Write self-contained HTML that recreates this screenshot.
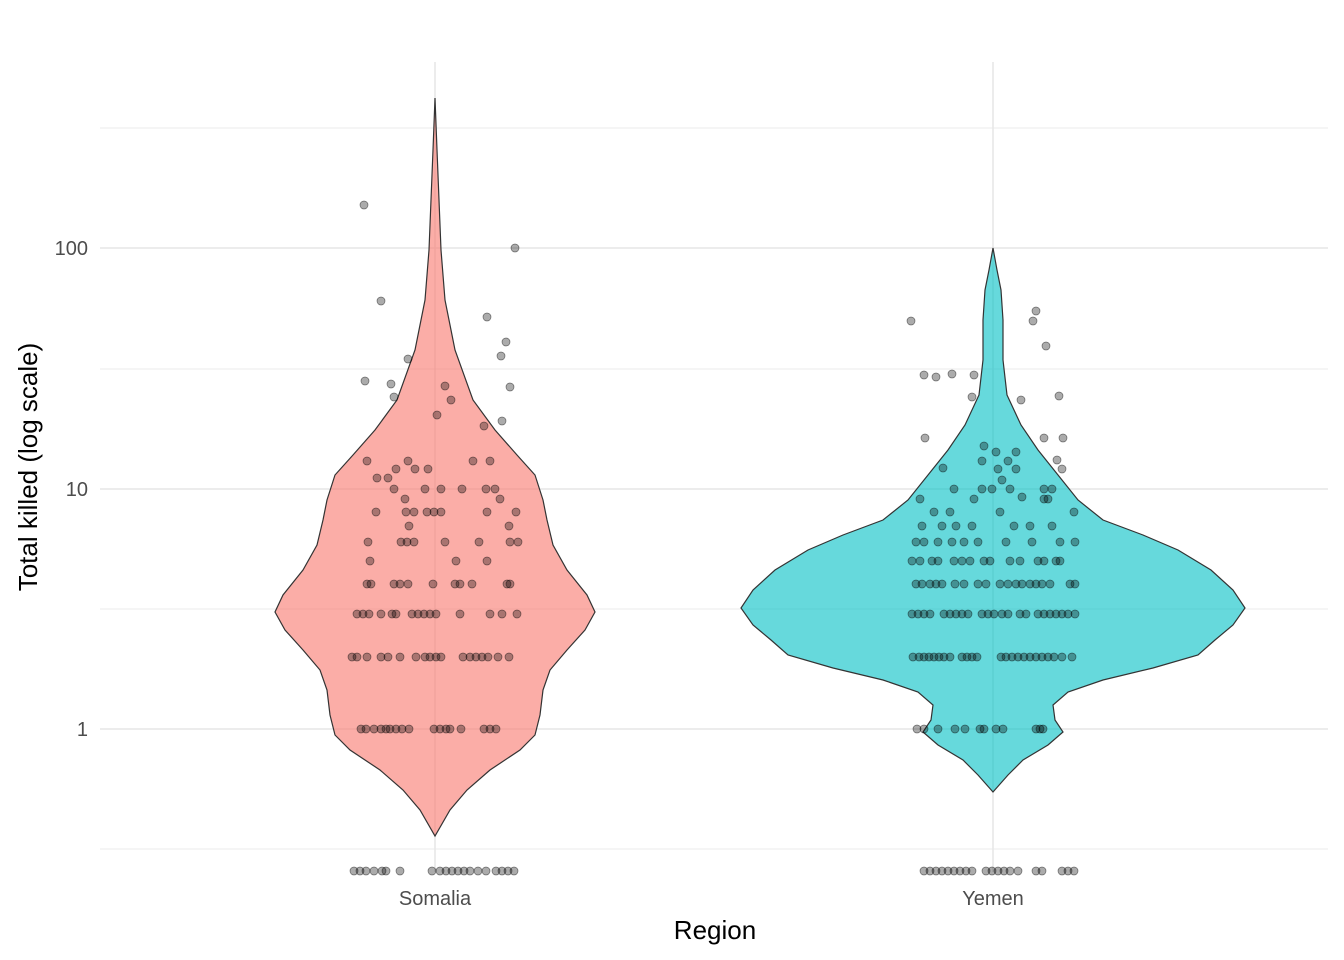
<!DOCTYPE html>
<html><head><meta charset="utf-8"><style>
html,body{margin:0;padding:0;background:#fff;}
svg{display:block;font-family:"Liberation Sans",Arial,sans-serif;}
</style></head><body>
<svg width="1344" height="960" viewBox="0 0 1344 960" xmlns="http://www.w3.org/2000/svg">
<rect width="1344" height="960" fill="#fff"/>
<g stroke="#ebebeb" stroke-width="1">
<line x1="100" x2="1328" y1="128" y2="128"/>
<line x1="100" x2="1328" y1="369" y2="369"/>
<line x1="100" x2="1328" y1="609" y2="609"/>
<line x1="100" x2="1328" y1="849" y2="849"/>
</g>
<g stroke="#e6e6e6" stroke-width="1.5">
<line x1="100" x2="1328" y1="248" y2="248"/>
<line x1="100" x2="1328" y1="489" y2="489"/>
<line x1="100" x2="1328" y1="729" y2="729"/>
<line x1="435" x2="435" y1="62" y2="872"/>
<line x1="993" x2="993" y1="62" y2="872"/>
</g>
<path fill="#F8766D" fill-opacity="0.6" stroke="#333" stroke-width="1.2" d="M435,98 L437,150 L441,250 L445,300 L455,350 L473,400 L495,430 L517,455 L535,475 L543,500 L547,520 L553,545 L567,570 L587,595 L595,612 L585,630 L567,650 L550,670 L543,690 L540,715 L535,735 L520,750 L490,770 L467,790 L450,810 L435,836 L420,810 L403,790 L380,770 L350,750 L335,735 L330,715 L327,690 L320,670 L303,650 L285,630 L275,612 L283,595 L303,570 L317,545 L323,520 L327,500 L335,475 L353,455 L375,430 L397,400 L415,350 L425,300 L429,250 L433,150 Z"/>
<path fill="#00BFC4" fill-opacity="0.6" stroke="#333" stroke-width="1.2" d="M993,248 L997,270 L1001,290 L1003,320 L1003,360 L1007,395 L1021,425 L1038,450 L1058,475 L1078,500 L1103,520 L1143,535 L1178,550 L1211,570 L1233,590 L1245,608 L1233,625 L1215,640 L1198,655 L1153,668 L1103,680 L1068,692 L1053,705 L1055,720 L1063,732 L1048,745 L1023,760 L1008,775 L993,792 L978,775 L963,760 L938,745 L923,732 L931,720 L933,705 L918,692 L883,680 L833,668 L788,655 L771,640 L753,625 L741,608 L753,590 L775,570 L808,550 L843,535 L883,520 L908,500 L928,475 L948,450 L965,425 L979,395 L983,360 L983,320 L985,290 L989,270 Z"/>
<g fill="#000" fill-opacity="0.33" stroke="#000" stroke-opacity="0.5" stroke-width="0.7">
<!-- Somalia zeros -->
<circle cx="354" cy="871" r="4"/><circle cx="360" cy="871" r="4"/><circle cx="366" cy="871" r="4"/><circle cx="374" cy="871" r="4"/><circle cx="382" cy="871" r="4"/><circle cx="386" cy="871" r="4"/><circle cx="400" cy="871" r="4"/><circle cx="432" cy="871" r="4"/><circle cx="440" cy="871" r="4"/><circle cx="446" cy="871" r="4"/><circle cx="452" cy="871" r="4"/><circle cx="458" cy="871" r="4"/><circle cx="464" cy="871" r="4"/><circle cx="470" cy="871" r="4"/><circle cx="478" cy="871" r="4"/><circle cx="486" cy="871" r="4"/><circle cx="496" cy="871" r="4"/><circle cx="502" cy="871" r="4"/><circle cx="508" cy="871" r="4"/><circle cx="514" cy="871" r="4"/>
<!-- Somalia 1 -->
<circle cx="361" cy="729" r="4"/><circle cx="366" cy="729" r="4"/><circle cx="374" cy="729" r="4"/><circle cx="381" cy="729" r="4"/><circle cx="386" cy="729" r="4"/><circle cx="390" cy="729" r="4"/><circle cx="396" cy="729" r="4"/><circle cx="402" cy="729" r="4"/><circle cx="409" cy="729" r="4"/><circle cx="434" cy="729" r="4"/><circle cx="440" cy="729" r="4"/><circle cx="446" cy="729" r="4"/><circle cx="450" cy="729" r="4"/><circle cx="461" cy="729" r="4"/><circle cx="484" cy="729" r="4"/><circle cx="490" cy="729" r="4"/><circle cx="496" cy="729" r="4"/>
<!-- 2 -->
<circle cx="352" cy="657" r="4"/><circle cx="357" cy="657" r="4"/><circle cx="367" cy="657" r="4"/><circle cx="381" cy="657" r="4"/><circle cx="388" cy="657" r="4"/><circle cx="400" cy="657" r="4"/><circle cx="416" cy="657" r="4"/><circle cx="425" cy="657" r="4"/><circle cx="430" cy="657" r="4"/><circle cx="436" cy="657" r="4"/><circle cx="441" cy="657" r="4"/><circle cx="463" cy="657" r="4"/><circle cx="470" cy="657" r="4"/><circle cx="476" cy="657" r="4"/><circle cx="482" cy="657" r="4"/><circle cx="488" cy="657" r="4"/><circle cx="498" cy="657" r="4"/><circle cx="509" cy="657" r="4"/>
<!-- 3 -->
<circle cx="357" cy="614" r="4"/><circle cx="363" cy="614" r="4"/><circle cx="369" cy="614" r="4"/><circle cx="381" cy="614" r="4"/><circle cx="392" cy="614" r="4"/><circle cx="396" cy="614" r="4"/><circle cx="412" cy="614" r="4"/><circle cx="418" cy="614" r="4"/><circle cx="424" cy="614" r="4"/><circle cx="430" cy="614" r="4"/><circle cx="436" cy="614" r="4"/><circle cx="460" cy="614" r="4"/><circle cx="490" cy="614" r="4"/><circle cx="502" cy="614" r="4"/><circle cx="517" cy="614" r="4"/>
<!-- 4 -->
<circle cx="367" cy="584" r="4"/><circle cx="371" cy="584" r="4"/><circle cx="394" cy="584" r="4"/><circle cx="400" cy="584" r="4"/><circle cx="408" cy="584" r="4"/><circle cx="433" cy="584" r="4"/><circle cx="455" cy="584" r="4"/><circle cx="460" cy="584" r="4"/><circle cx="472" cy="584" r="4"/><circle cx="507" cy="584" r="4"/><circle cx="510" cy="584" r="4"/>
<!-- 5-9 -->
<circle cx="370" cy="561" r="4"/><circle cx="456" cy="561" r="4"/><circle cx="487" cy="561" r="4"/>
<circle cx="368" cy="542" r="4"/><circle cx="401" cy="542" r="4"/><circle cx="407" cy="542" r="4"/><circle cx="414" cy="542" r="4"/><circle cx="445" cy="542" r="4"/><circle cx="479" cy="542" r="4"/><circle cx="510" cy="542" r="4"/><circle cx="518" cy="542" r="4"/>
<circle cx="409" cy="526" r="4"/><circle cx="509" cy="526" r="4"/>
<circle cx="376" cy="512" r="4"/><circle cx="406" cy="512" r="4"/><circle cx="414" cy="512" r="4"/><circle cx="427" cy="512" r="4"/><circle cx="434" cy="512" r="4"/><circle cx="441" cy="512" r="4"/><circle cx="487" cy="512" r="4"/><circle cx="516" cy="512" r="4"/>
<circle cx="405" cy="499" r="4"/><circle cx="500" cy="499" r="4"/>
<circle cx="394" cy="489" r="4"/><circle cx="425" cy="489" r="4"/><circle cx="441" cy="489" r="4"/><circle cx="462" cy="489" r="4"/><circle cx="486" cy="489" r="4"/><circle cx="495" cy="489" r="4"/>
<circle cx="377" cy="478" r="4"/><circle cx="388" cy="478" r="4"/><circle cx="367" cy="461" r="4"/><circle cx="396" cy="469" r="4"/><circle cx="408" cy="461" r="4"/><circle cx="415" cy="469" r="4"/><circle cx="428" cy="469" r="4"/><circle cx="473" cy="461" r="4"/><circle cx="490" cy="461" r="4"/><circle cx="484" cy="426" r="4"/><circle cx="437" cy="415" r="4"/><circle cx="502" cy="421" r="4"/>
<!-- outliers -->
<circle cx="364" cy="205" r="4"/><circle cx="381" cy="301" r="4"/><circle cx="515" cy="248" r="4"/><circle cx="487" cy="317" r="4"/><circle cx="506" cy="342" r="4"/><circle cx="501" cy="356" r="4"/><circle cx="365" cy="381" r="4"/><circle cx="391" cy="384" r="4"/><circle cx="394" cy="397" r="4"/><circle cx="510" cy="387" r="4"/><circle cx="408" cy="359" r="4"/><circle cx="445" cy="386" r="4"/><circle cx="451" cy="400" r="4"/>
<!-- Yemen zeros -->
<circle cx="924" cy="871" r="4"/><circle cx="930" cy="871" r="4"/><circle cx="936" cy="871" r="4"/><circle cx="942" cy="871" r="4"/><circle cx="948" cy="871" r="4"/><circle cx="954" cy="871" r="4"/><circle cx="960" cy="871" r="4"/><circle cx="966" cy="871" r="4"/><circle cx="972" cy="871" r="4"/><circle cx="986" cy="871" r="4"/><circle cx="992" cy="871" r="4"/><circle cx="998" cy="871" r="4"/><circle cx="1004" cy="871" r="4"/><circle cx="1010" cy="871" r="4"/><circle cx="1018" cy="871" r="4"/><circle cx="1036" cy="871" r="4"/><circle cx="1042" cy="871" r="4"/><circle cx="1062" cy="871" r="4"/><circle cx="1068" cy="871" r="4"/><circle cx="1074" cy="871" r="4"/>
<!-- Yemen 1 -->
<circle cx="917" cy="729" r="4"/><circle cx="924" cy="729" r="4"/><circle cx="938" cy="729" r="4"/><circle cx="955" cy="729" r="4"/><circle cx="965" cy="729" r="4"/><circle cx="980" cy="729" r="4"/><circle cx="984" cy="729" r="4"/><circle cx="996" cy="729" r="4"/><circle cx="1003" cy="729" r="4"/><circle cx="1036" cy="729" r="4"/><circle cx="1040" cy="729" r="4"/><circle cx="1043" cy="729" r="4"/>
<!-- 2 -->
<circle cx="913" cy="657" r="4"/><circle cx="919" cy="657" r="4"/><circle cx="924" cy="657" r="4"/><circle cx="929" cy="657" r="4"/><circle cx="934" cy="657" r="4"/><circle cx="939" cy="657" r="4"/><circle cx="944" cy="657" r="4"/><circle cx="950" cy="657" r="4"/><circle cx="962" cy="657" r="4"/><circle cx="967" cy="657" r="4"/><circle cx="972" cy="657" r="4"/><circle cx="977" cy="657" r="4"/><circle cx="1001" cy="657" r="4"/><circle cx="1006" cy="657" r="4"/><circle cx="1012" cy="657" r="4"/><circle cx="1018" cy="657" r="4"/><circle cx="1024" cy="657" r="4"/><circle cx="1030" cy="657" r="4"/><circle cx="1036" cy="657" r="4"/><circle cx="1042" cy="657" r="4"/><circle cx="1048" cy="657" r="4"/><circle cx="1054" cy="657" r="4"/><circle cx="1062" cy="657" r="4"/><circle cx="1072" cy="657" r="4"/>
<!-- 3 -->
<circle cx="912" cy="614" r="4"/><circle cx="918" cy="614" r="4"/><circle cx="924" cy="614" r="4"/><circle cx="930" cy="614" r="4"/><circle cx="944" cy="614" r="4"/><circle cx="950" cy="614" r="4"/><circle cx="956" cy="614" r="4"/><circle cx="962" cy="614" r="4"/><circle cx="968" cy="614" r="4"/><circle cx="982" cy="614" r="4"/><circle cx="988" cy="614" r="4"/><circle cx="994" cy="614" r="4"/><circle cx="1002" cy="614" r="4"/><circle cx="1008" cy="614" r="4"/><circle cx="1020" cy="614" r="4"/><circle cx="1026" cy="614" r="4"/><circle cx="1038" cy="614" r="4"/><circle cx="1044" cy="614" r="4"/><circle cx="1050" cy="614" r="4"/><circle cx="1056" cy="614" r="4"/><circle cx="1062" cy="614" r="4"/><circle cx="1068" cy="614" r="4"/><circle cx="1075" cy="614" r="4"/>
<!-- 4 -->
<circle cx="916" cy="584" r="4"/><circle cx="922" cy="584" r="4"/><circle cx="930" cy="584" r="4"/><circle cx="936" cy="584" r="4"/><circle cx="942" cy="584" r="4"/><circle cx="955" cy="584" r="4"/><circle cx="964" cy="584" r="4"/><circle cx="978" cy="584" r="4"/><circle cx="986" cy="584" r="4"/><circle cx="1000" cy="584" r="4"/><circle cx="1008" cy="584" r="4"/><circle cx="1016" cy="584" r="4"/><circle cx="1022" cy="584" r="4"/><circle cx="1030" cy="584" r="4"/><circle cx="1036" cy="584" r="4"/><circle cx="1042" cy="584" r="4"/><circle cx="1050" cy="584" r="4"/><circle cx="1070" cy="584" r="4"/><circle cx="1075" cy="584" r="4"/>
<!-- 5 -->
<circle cx="912" cy="561" r="4"/><circle cx="920" cy="561" r="4"/><circle cx="932" cy="561" r="4"/><circle cx="938" cy="561" r="4"/><circle cx="954" cy="561" r="4"/><circle cx="962" cy="561" r="4"/><circle cx="970" cy="561" r="4"/><circle cx="984" cy="561" r="4"/><circle cx="990" cy="561" r="4"/><circle cx="1010" cy="561" r="4"/><circle cx="1020" cy="561" r="4"/><circle cx="1038" cy="561" r="4"/><circle cx="1044" cy="561" r="4"/><circle cx="1056" cy="561" r="4"/><circle cx="1060" cy="561" r="4"/>
<!-- 6-9 -->
<circle cx="916" cy="542" r="4"/><circle cx="924" cy="542" r="4"/><circle cx="938" cy="542" r="4"/><circle cx="952" cy="542" r="4"/><circle cx="964" cy="542" r="4"/><circle cx="978" cy="542" r="4"/><circle cx="1006" cy="542" r="4"/><circle cx="1032" cy="542" r="4"/><circle cx="1060" cy="542" r="4"/><circle cx="1075" cy="542" r="4"/>
<circle cx="922" cy="526" r="4"/><circle cx="942" cy="526" r="4"/><circle cx="956" cy="526" r="4"/><circle cx="972" cy="526" r="4"/><circle cx="1014" cy="526" r="4"/><circle cx="1030" cy="526" r="4"/><circle cx="1052" cy="526" r="4"/>
<circle cx="934" cy="512" r="4"/><circle cx="950" cy="512" r="4"/><circle cx="1000" cy="512" r="4"/><circle cx="1074" cy="512" r="4"/>
<circle cx="920" cy="499" r="4"/><circle cx="974" cy="499" r="4"/><circle cx="1044" cy="499" r="4"/><circle cx="1048" cy="499" r="4"/>
<circle cx="954" cy="489" r="4"/><circle cx="982" cy="489" r="4"/><circle cx="992" cy="489" r="4"/><circle cx="1010" cy="489" r="4"/><circle cx="1044" cy="489" r="4"/><circle cx="1052" cy="489" r="4"/><circle cx="1022" cy="497" r="4"/><circle cx="1002" cy="480" r="4"/>
<circle cx="943" cy="468" r="4"/><circle cx="998" cy="469" r="4"/><circle cx="1016" cy="469" r="4"/><circle cx="1062" cy="469" r="4"/><circle cx="1057" cy="460" r="4"/><circle cx="982" cy="461" r="4"/><circle cx="1008" cy="461" r="4"/><circle cx="984" cy="446" r="4"/><circle cx="996" cy="452" r="4"/><circle cx="1016" cy="452" r="4"/>
<!-- outliers -->
<circle cx="911" cy="321" r="4"/><circle cx="1036" cy="311" r="4"/><circle cx="1033" cy="321" r="4"/><circle cx="1046" cy="346" r="4"/><circle cx="924" cy="375" r="4"/><circle cx="936" cy="377" r="4"/><circle cx="952" cy="374" r="4"/><circle cx="974" cy="375" r="4"/><circle cx="972" cy="397" r="4"/><circle cx="1021" cy="400" r="4"/><circle cx="1059" cy="396" r="4"/><circle cx="925" cy="438" r="4"/><circle cx="1044" cy="438" r="4"/><circle cx="1063" cy="438" r="4"/>
</g>
<g fill="#4d4d4d" font-size="20" text-anchor="end">
<text x="88" y="255">100</text>
<text x="88" y="496">10</text>
<text x="88" y="736">1</text>
</g>
<g fill="#4d4d4d" font-size="20" text-anchor="middle">
<text x="435" y="905">Somalia</text>
<text x="993" y="905">Yemen</text>
</g>
<text x="715" y="939" font-size="26" text-anchor="middle" fill="#000">Region</text>
<text transform="translate(37,467) rotate(-90)" font-size="26" text-anchor="middle" fill="#000">Total killed (log scale)</text>
</svg>
</body></html>
